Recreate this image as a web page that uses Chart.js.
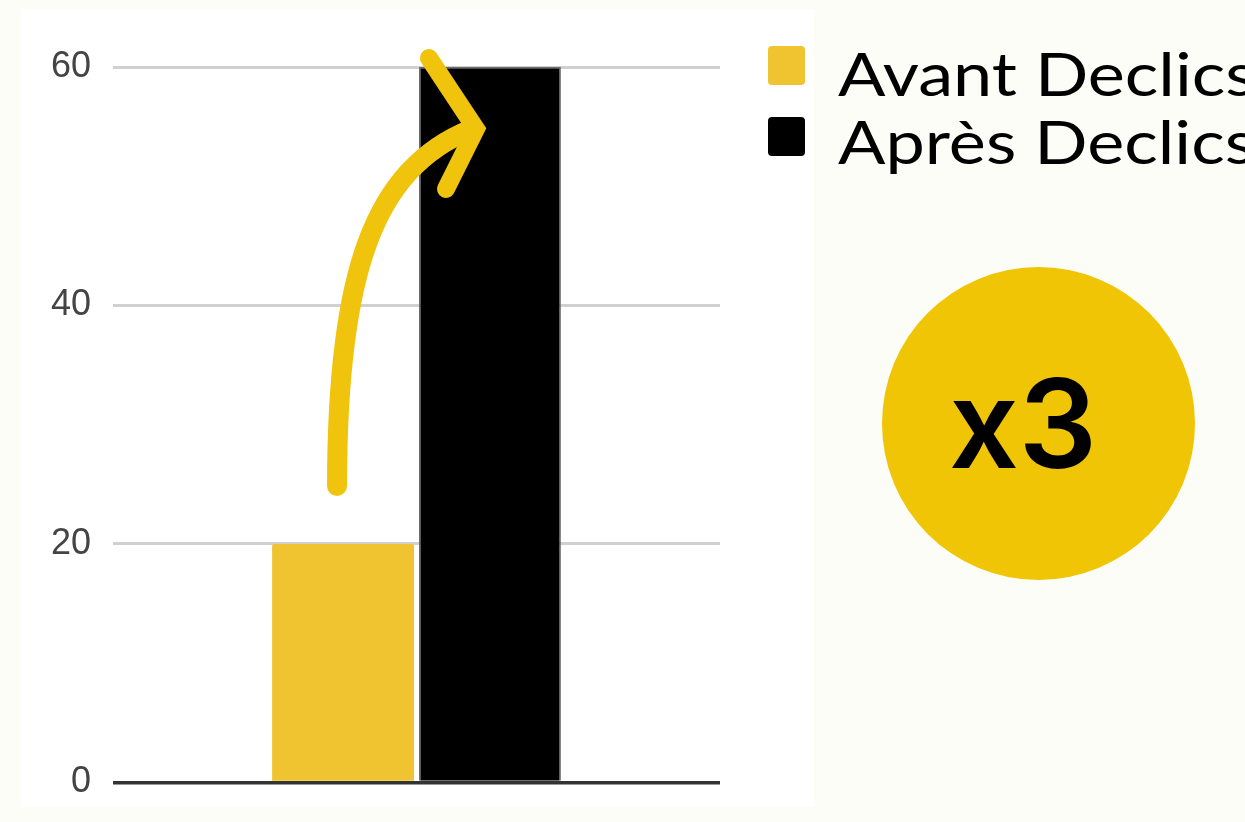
<!DOCTYPE html>
<html>
<head>
<meta charset="utf-8">
<script src="https://cdn.jsdelivr.net/npm/chart.js@4/dist/chart.umd.min.js"></script>
<style>
  html, body { margin:0; padding:0; width:1245px; height:822px; overflow:hidden; background:#fdfdf7; }
  #panel { position:absolute; left:21px; top:9px; width:793px; height:798px; background:#ffffff; }
  #c { position:absolute; left:0; top:0; }
  .sw { position:absolute; width:37px; height:39px; border-radius:4px; }
  .lbl { position:absolute; font-family:Lato, sans-serif; font-size:60px; line-height:72px; color:#000; white-space:nowrap; transform:scaleX(1.17); transform-origin:0 0; }
  #badge { position:absolute; left:882px; top:267px; width:313px; height:313px; border-radius:50%; background:#f0c505; }
  #badgeText { position:absolute; left:873px; top:349px; width:300px; text-align:center; font-family:Inter, sans-serif; font-weight:600; font-size:123px; line-height:150px; color:#000; }
</style>
</head>
<body>
<div id="panel"></div>
<canvas id="c" width="1245" height="826"></canvas>
<div id="legend"></div>
<div id="badge"></div>
<div id="badgeText">x3</div>
<script>
const categories = [''];
const seriesLabels = ['Avant Declics', 'Après Declics'];
const avantValues = [20];
const apresValues = [60];
const seriesColors = ['#f0c331', '#000000'];
const yTickValues = [0, 20, 40, 60];

const arrowPlugin = {
  id: 'arrow',
  afterDatasetsDraw(chart) {
    const b0 = chart.getDatasetMeta(0).data[0];
    const b1 = chart.getDatasetMeta(1).data[0];
    if (!b0 || !b1) return;
    const ctx = chart.ctx;
    const sx = b0.x - 6, sy = b0.y - 58;
    const vx = b1.x - 14, vy = b1.y + 62;
    ctx.save();
    ctx.strokeStyle = '#f0c40c';
    ctx.lineCap = 'round';
    ctx.lineWidth = 20;
    ctx.beginPath();
    ctx.moveTo(sx, sy);
    ctx.bezierCurveTo(sx, sy - 210, sx + 35, vy + 40, vx - 4, vy);
    ctx.stroke();
    ctx.lineJoin = 'miter';
    ctx.lineWidth = 18;
    ctx.beginPath();
    ctx.moveTo(vx - 47, vy - 71);
    ctx.lineTo(vx, vy);
    ctx.lineTo(vx - 30, vy + 60);
    ctx.stroke();
    ctx.restore();
  }
};

const chart = new Chart(document.getElementById('c'), {
  type: 'bar',
  data: {
    labels: categories,
    datasets: [
      { label: seriesLabels[0], data: avantValues, backgroundColor: seriesColors[0], borderWidth: 0,
        borderRadius: { topLeft: 2, topRight: 2 }, borderSkipped: 'start' },
      { label: seriesLabels[1], data: apresValues, backgroundColor: seriesColors[1], borderColor: '#6b6b6b',
        borderWidth: 1.5, borderSkipped: 'start' }
    ]
  },
  options: {
    responsive: false,
    devicePixelRatio: 1,
    animation: false,
    categoryPercentage: 0.484,
    barPercentage: 0.966,
    layout: { padding: { left: 0, top: 67, right: 525, bottom: 36 } },
    plugins: { legend: { display: false }, tooltip: { enabled: false } },
    scales: {
      x: { display: false },
      y: {
        min: 0, max: 60,
        afterBuildTicks: (s) => { s.ticks = yTickValues.map(v => ({ value: v })); },
        afterFit: (s) => { s.width = 113; },
        border: { display: false },
        grid: {
          drawTicks: false,
          lineWidth: (c) => (c.tick && c.tick.value === 0 ? 3.5 : 3),
          color: (c) => (c.tick && c.tick.value === 0 ? '#333333' : '#d0d0d0')
        },
        ticks: {
          padding: 22,
          color: '#444444',
          font: { family: '"Liberation Sans", Arial, sans-serif', size: 36 }
        }
      }
    }
  },
  plugins: [arrowPlugin]
});

// HTML legend built from the datasets
const legend = document.getElementById('legend');
chart.data.datasets.forEach((ds, i) => {
  const sw = document.createElement('div');
  sw.className = 'sw';
  sw.style.left = '768px';
  sw.style.top = (46 + i * 71) + 'px';
  sw.style.background = ds.backgroundColor;
  legend.appendChild(sw);
  const lbl = document.createElement('div');
  lbl.className = 'lbl';
  lbl.style.left = '838px';
  lbl.style.top = (37 + i * 68) + 'px';
  lbl.textContent = ds.label;
  legend.appendChild(lbl);
});
</script>
</body>
</html>
